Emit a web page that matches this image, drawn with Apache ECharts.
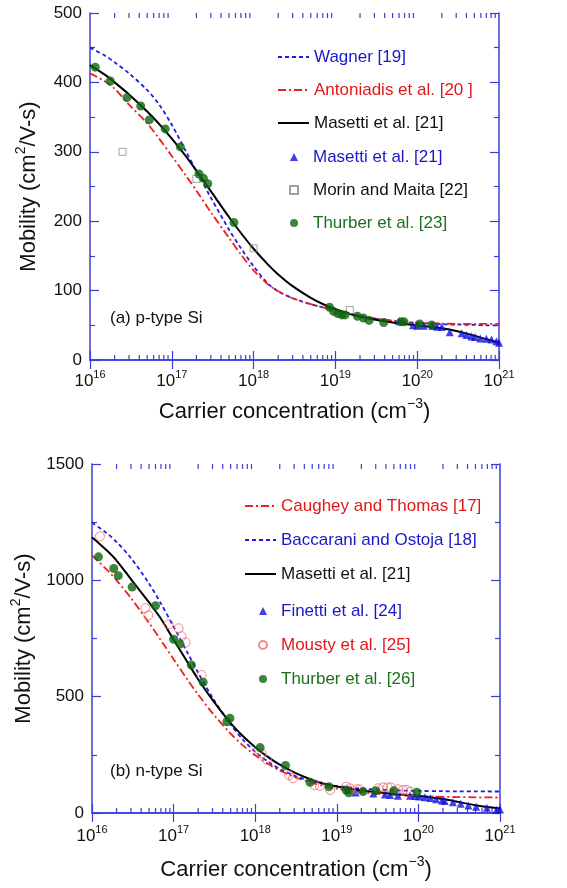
<!DOCTYPE html>
<html>
<head>
<meta charset="utf-8">
<script src="https://cdn.jsdelivr.net/npm/echarts@6/dist/echarts.min.js"></script>
<style>
  html, body { margin: 0; padding: 0; background: #fff; }
  #chart { width: 567px; height: 888px; }
</style>
</head>
<body>
<div id="chart"></div>
<script>
// ---- carrier concentrations (cm^-3) at which the model curves are sampled ----
const curveN = [1e16, 1.5e16, 2e16, 3e16, 5e16, 7e16, 1e17, 1.5e17, 2e17, 3e17, 5e17, 7e17,
  1e18, 1.5e18, 2e18, 3e18, 5e18, 7e18, 1e19, 2e19, 5e19, 1e20, 2e20, 3e20, 5e20, 7e20, 1e21];

// ---- (a) p-type Si: model curves (cm^2/V-s) ----
const wagnerP     = [450, 439, 429, 413, 389, 368, 339, 300, 272, 234, 188, 161,
  135, 110, 99, 89, 80.5, 76, 72, 63, 56, 53, 51.5, 51, 50.5, 50, 50];
const antoniadisP = [413, 402, 391, 368, 341, 319, 294, 265, 244, 213, 176, 152,
  129, 109, 99, 89, 80.5, 76, 72, 63.5, 57, 54, 52.5, 52, 52, 52, 52];
const masettiP    = [425, 411.5, 400, 382.6, 358, 340, 319, 293, 272.7, 243.3, 206, 183,
  160.3, 137.5, 123.3, 106.4, 89.5, 80.7, 73.2, 62.6, 54, 49.9, 45.6, 41.9, 35.1, 29.8, 24.9];

// ---- (a) p-type Si: measured points ----
const masettiPN  = [6.0e19, 8.9e19, 1.0e20, 1.2e20, 1.55e20, 1.75e20, 2.0e20, 2.5e20, 3.5e20,
  4.0e20, 4.6e20, 5.1e20, 5.9e20, 7.0e20, 8.1e20, 9.3e20, 1.0e21];
const masettiPMu = [56, 50, 49.5, 49.5, 49, 48, 47.5, 40, 38.5, 36, 34, 33, 31, 30.5, 29.5, 27, 25];
const morinPN  = [2.5e16, 2.0e17, 1.0e18, 1.5e19];
const morinPMu = [300, 261, 161, 72];
const thurberPN  = [1.16e16, 1.77e16, 2.83e16, 4.17e16, 5.3e16, 8.3e16, 1.27e17, 2.15e17, 2.43e17,
  2.75e17, 5.75e17, 8.5e18, 9.5e18, 1.07e19, 1.2e19, 1.31e19, 1.86e19, 2.2e19, 2.58e19, 3.9e19,
  6.3e19, 6.9e19, 1.07e20, 1.5e20];
const thurberPMu = [422, 402, 378, 366, 346, 333, 307, 268, 262,
  254, 198, 76, 70, 67, 65, 65, 63, 60.5, 57, 54,
  55, 55, 52, 50.5];

// ---- (b) n-type Si: model curves ----
const caugheyN   = [1107, 1048, 1000, 924, 817, 742, 661, 570, 509, 429, 341, 292,
  248, 207, 183, 155, 129, 115.7, 104.6, 89.3, 77.7, 72.7, 69.7, 68.5, 67.5, 67, 66.5];
const baccaraniN = [1248, 1204, 1165, 1096, 986, 900, 801, 685, 603, 496, 380, 317,
  263, 215.6, 189, 161, 136, 125, 116, 105, 97.6, 95, 93.6, 93.2, 92.8, 92.6, 92.3];
const masettiN   = [1185, 1130, 1085, 1005, 905, 835, 745, 645, 575, 486, 386, 332,
  283, 236, 208, 175, 142, 126, 114, 97, 82.4, 73.2, 59.7, 48.3, 33.3, 25.6, 20.2];

// ---- (b) n-type Si: measured points ----
const finettiN  = [1.35e19, 1.7e19, 2.8e19, 3.9e19, 4.5e19, 5.6e19, 7.9e19, 9.1e19, 1.02e20, 1.2e20,
  1.4e20, 1.65e20, 1.95e20, 2.1e20, 2.65e20, 3.3e20, 4.1e20, 5.1e20, 6.9e20, 9.1e20, 1.0e21];
const finettiMu = [100, 88, 84, 80, 77, 74, 74, 73, 71, 68,
  64, 59, 54, 52, 46, 40, 32, 27, 23, 14, 15];
const moustyN  = [1.25e16, 4.5e16, 4.9e16, 8.7e16, 1.15e17, 1.25e17, 1.4e17, 2.2e17, 1.1e18, 1.2e18,
  1.4e18, 2.6e18, 2.9e18, 5.3e18, 6.2e18, 8.3e18, 1.3e19, 1.45e19, 1.75e19, 1.9e19,
  3.2e19, 3.7e19, 4.2e19, 4.6e19, 5.6e19, 6.5e19, 7.2e19, 8.0e19];
const moustyMu = [1189, 880, 850, 811, 794, 760, 733, 593, 271, 256,
  228, 163, 149, 120, 117, 99, 113, 106, 102, 102,
  106, 110, 110, 110, 102, 99, 99, 92];
const thurberNN  = [1.2e16, 1.85e16, 2.1e16, 3.1e16, 6.0e16, 1.0e17, 1.2e17, 1.65e17, 2.3e17, 4.5e17,
  4.9e17, 1.15e18, 2.35e18, 4.7e18, 8.0e18, 1.3e19, 1.4e19, 2.1e19, 3.0e19, 5.0e19, 9.6e19];
const thurberNMu = [1101, 1051, 1020, 971, 891, 747, 726, 636, 562, 392,
  407, 281, 204, 132, 113, 99, 87, 92, 96, 96, 89];

// ---- axis ticks ----
const decadeExp = [16, 17, 18, 19, 20, 21];
const minorFactors = [2, 3, 4, 5, 6, 7, 8, 9];

// ---- styling ----
const FONT = '"Liberation Sans", Arial, Helvetica, sans-serif';
const AX = '#3c3cd6';
const BLUE = '#1e1ee8';
const RED = '#ee2020';
const GREEN = '#0d650f';
const BLUE_T = '#1818c8';
const RED_T = '#e01818';
const GREEN_T = '#1d701d';
const INK = '#111';

const zip = (xs, ys) => xs.map((x, i) => [x, ys[i]]);

// concentrations of the 2..9 sub-decade ticks
const minorN = [];
decadeExp.slice(0, -1).forEach(d => minorFactors.forEach(k => minorN.push(k * Math.pow(10, d))));

const tickRich = {
  b: { fontSize: 17, fontFamily: FONT, color: INK },
  s: { fontSize: 11, fontFamily: FONT, color: INK, padding: [0, 0, 13, 0] }
};
const nameRich = {
  t: { fontSize: 22, fontFamily: FONT, color: INK },
  s: { fontSize: 14, fontFamily: FONT, color: INK, padding: [0, 0, 16, 0] }
};

function xAxesFor(g, labelMargin, nameGap) {
  const line = { show: true, lineStyle: { color: AX, width: 1.5 } };
  const major = { show: true, inside: true, length: 9, lineStyle: { color: AX, width: 1.2 } };
  return [
    { // data axis with decade labels
      type: 'log', logBase: 10, gridIndex: g, position: 'bottom', min: 1e16, max: 1e21, splitNumber: 5,
      axisLine: line, axisTick: major, splitLine: { show: false },
      axisLabel: {
        margin: labelMargin, showMinLabel: true, showMaxLabel: true, hideOverlap: false,
        formatter: v => '{b|10}{s|' + Math.round(Math.log10(v)) + '}', rich: tickRich
      },
      name: '{t|Carrier concentration (cm}{s|−3}{t|)}', nameLocation: 'middle', nameGap: nameGap,
      nameTextStyle: { rich: nameRich }
    },
    { // frame along the top edge, decade ticks
      type: 'value', gridIndex: g, position: 'top', min: 16, max: 21, interval: 1,
      axisLine: line, axisTick: major, axisLabel: { show: false }, splitLine: { show: false }
    }
  ];
}

function yAxesFor(g, max, interval, nameGap) {
  const base = {
    type: 'value', gridIndex: g, min: 0, max: max, interval: interval,
    axisLine: { show: true, lineStyle: { color: AX, width: 1.5 } },
    axisTick: { show: true, inside: true, length: 9, lineStyle: { color: AX, width: 1.2 } },
    minorTick: { show: true, splitNumber: 2, length: 5, lineStyle: { color: AX, width: 1.2 } },
    splitLine: { show: false }, minorSplitLine: { show: false }
  };
  return [
    Object.assign({}, base, {
      position: 'left',
      axisLabel: { margin: 8, fontSize: 17, fontFamily: FONT, color: INK, formatter: v => String(v) },
      name: '{t|Mobility (cm}{s|2}{t|/V-s)}', nameLocation: 'middle', nameGap: nameGap, nameRotate: 90,
      nameTextStyle: { rich: nameRich }
    }),
    Object.assign({}, base, { position: 'right', axisLabel: { show: false } })
  ];
}

// short sub-decade ticks on the bottom and top edges, placed through the log axis
function minorTicks(xi, yi, len) {
  return {
    type: 'custom', xAxisIndex: xi, yAxisIndex: yi, silent: true, z: 1, clip: false,
    data: minorN.map(v => [v, 0]),
    renderItem: (params, api) => {
      const x = api.coord([api.value(0), 0])[0];
      const cs = params.coordSys;
      const style = { stroke: AX, lineWidth: 1.2 };
      const yb = cs.y + cs.height;
      return {
        type: 'group',
        children: [
          { type: 'line', shape: { x1: x, y1: yb, x2: x, y2: yb - len }, style: style },
          { type: 'line', shape: { x1: x, y1: cs.y, x2: x, y2: cs.y + len }, style: style }
        ]
      };
    }
  };
}

const lineDefaults = { type: 'line', symbol: 'none', smooth: 0.3, z: 2, silent: true };

function curve(name, xi, yi, ys, color, dash, width) {
  return Object.assign({}, lineDefaults, {
    name: name, xAxisIndex: xi, yAxisIndex: yi, data: zip(curveN, ys),
    itemStyle: { color: color },
    lineStyle: { color: color, width: width, type: dash }
  });
}

function points(name, xi, yi, xs, ys, symbol, size, itemStyle) {
  return {
    name: name, type: 'scatter', xAxisIndex: xi, yAxisIndex: yi, data: zip(xs, ys),
    symbol: symbol, symbolSize: size, itemStyle: itemStyle, z: 3, silent: true
  };
}

const legendText = { fontSize: 17, fontFamily: FONT, lineHeight: 20 };
const lineLegend = {
  orient: 'vertical', padding: 0, itemWidth: 31, itemHeight: 14, selectedMode: false,
  itemStyle: { opacity: 0 }, textStyle: legendText
};
const markLegend = {
  orient: 'vertical', padding: 0, itemWidth: 8, itemHeight: 8, selectedMode: false
};

const option = {
  backgroundColor: '#fff',
  animation: false,
  title: [
    { text: '(a) p-type Si', left: 105, top: 305, textStyle: { fontSize: 17, fontWeight: 'normal', fontFamily: FONT, color: INK } },
    { text: '(b) n-type Si', left: 105, top: 758, textStyle: { fontSize: 17, fontWeight: 'normal', fontFamily: FONT, color: INK } }
  ],
  grid: [
    { left: 90, top: 13, width: 409, height: 347 },
    { left: 92, top: 464, width: 408, height: 349 }
  ],
  xAxis: xAxesFor(0, 9, 37).concat(xAxesFor(1, 11, 42)),
  yAxis: yAxesFor(0, 500, 100, 46).concat(yAxesFor(1, 1500, 500, 46)),
  legend: [
    Object.assign({}, lineLegend, {
      left: 277, top: 47, itemGap: 13,
      data: [
        { name: 'Wagner [19]', textStyle: { color: BLUE_T } },
        { name: 'Antoniadis et al. [20 ]', textStyle: { color: RED_T } },
        { name: 'Masetti et al. [21]', textStyle: { color: INK } }
      ]
    }),
    Object.assign({}, markLegend, {
      left: 289, top: 147, itemGap: 13,
      textStyle: Object.assign({}, legendText, { padding: [0, 0, 0, 10] }),
      data: [
        { name: 'Masetti et al. [21] ', textStyle: { color: BLUE_T } },
        { name: 'Morin and Maita [22]', textStyle: { color: INK } },
        { name: 'Thurber et al. [23]', textStyle: { color: GREEN_T } }
      ]
    }),
    Object.assign({}, lineLegend, {
      left: 244, top: 496, itemGap: 14,
      data: [
        { name: 'Caughey and Thomas [17]', textStyle: { color: RED_T } },
        { name: 'Baccarani and Ostoja [18]', textStyle: { color: BLUE_T } },
        { name: 'Masetti et al. [21]', textStyle: { color: INK } }
      ]
    }),
    Object.assign({}, markLegend, {
      left: 258, top: 601, itemGap: 14,
      textStyle: Object.assign({}, legendText, { padding: [0, 0, 0, 9] }),
      data: [
        { name: 'Finetti et al. [24]', textStyle: { color: BLUE_T } },
        { name: 'Mousty et al. [25]', textStyle: { color: RED_T } },
        { name: 'Thurber et al. [26]', textStyle: { color: GREEN_T } }
      ]
    })
  ],
  series: [
    minorTicks(0, 0, 5),
    minorTicks(2, 2, 5),
    // (a) p-type
    curve('Wagner [19]', 0, 0, wagnerP, BLUE, [4, 3], 1.8),
    curve('Antoniadis et al. [20 ]', 0, 0, antoniadisP, RED, [8, 3, 2, 3], 1.8),
    curve('Masetti et al. [21]', 0, 0, masettiP, '#000', 'solid', 2),
    points('Masetti et al. [21] ', 0, 0, masettiPN, masettiPMu, 'triangle', 8, { color: '#1212dc' }),
    points('Morin and Maita [22]', 0, 0, morinPN, morinPMu, 'rect', 7,
      { color: 'rgba(255,255,255,0)', borderColor: '#8a8a8a', borderWidth: 1 }),
    points('Thurber et al. [23]', 0, 0, thurberPN, thurberPMu, 'circle', 9, { color: GREEN }),
    // (b) n-type
    curve('Caughey and Thomas [17]', 2, 2, caugheyN, RED, [8, 3, 2, 3], 1.8),
    curve('Baccarani and Ostoja [18]', 2, 2, baccaraniN, BLUE, [4, 3], 1.8),
    curve('Masetti et al. [21]', 2, 2, masettiN, '#000', 'solid', 2),
    points('Finetti et al. [24]', 2, 2, finettiN, finettiMu, 'triangle', 8, { color: '#1212dc' }),
    points('Mousty et al. [25]', 2, 2, moustyN, moustyMu, 'circle', 9,
      { color: 'rgba(255,255,255,0)', borderColor: '#f06a6a', borderWidth: 1 }),
    points('Thurber et al. [26]', 2, 2, thurberNN, thurberNMu, 'circle', 9, { color: GREEN })
  ]
};

const chart = echarts.init(document.getElementById('chart'), null, { renderer: 'canvas' });
chart.setOption(option);
</script>
</body>
</html>
